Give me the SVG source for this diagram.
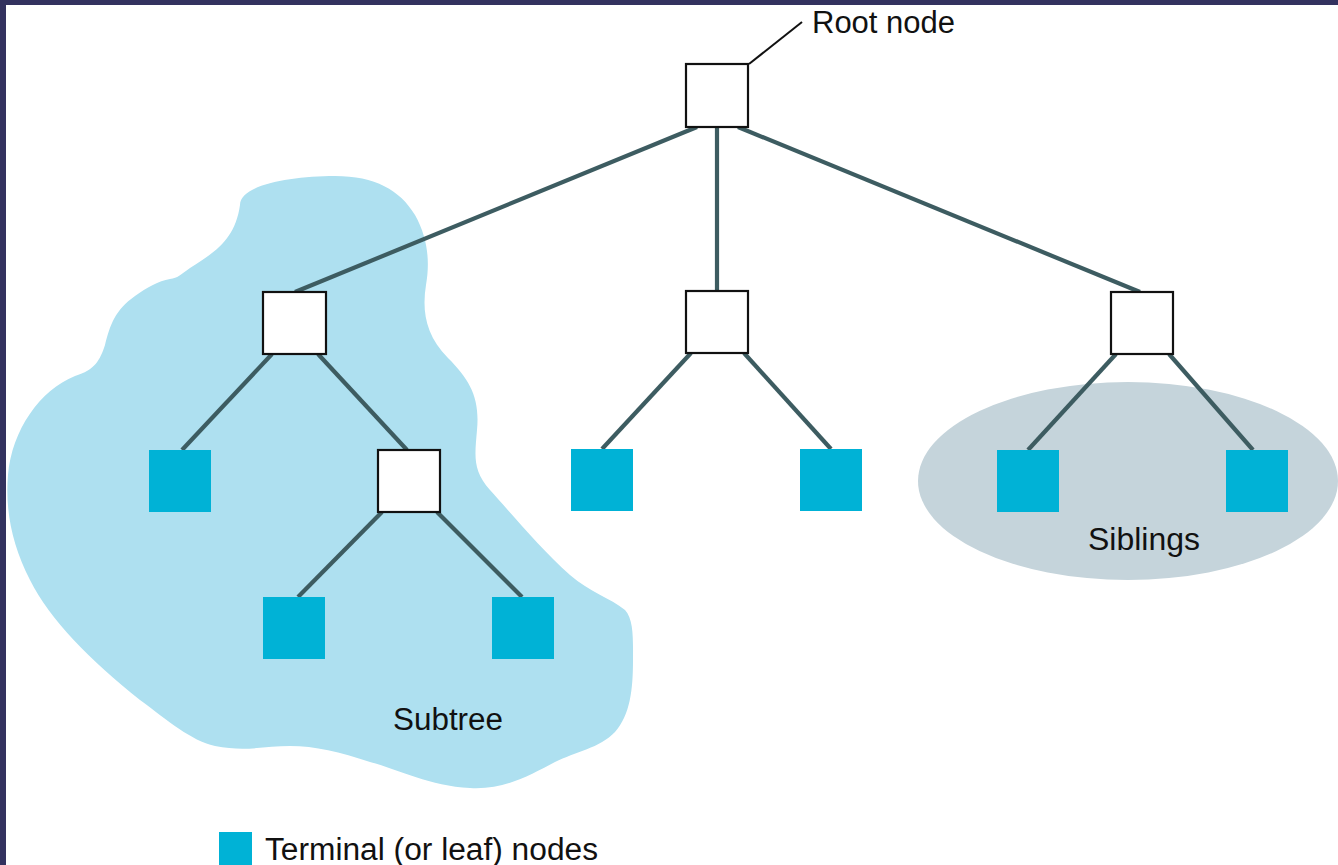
<svg xmlns="http://www.w3.org/2000/svg" width="1338" height="865" viewBox="0 0 1338 865">
<style>
.inner{fill:#ffffff;stroke:#111111;stroke-width:2.2}
.leaf{fill:#00b2d6}
.edge{stroke:#3d5c61;stroke-width:4.2;stroke-linecap:butt;fill:none}
.lbl{font-family:"Liberation Sans",Arial,sans-serif;font-size:31px;fill:#111111}
</style>
<rect x="0" y="0" width="1338" height="865" fill="#ffffff"/>
<rect x="0" y="0" width="1338" height="5" fill="#33325f"/>
<rect x="0" y="0" width="6" height="865" fill="#33325f"/>
<g id="regions">
<path id="subtree-region" fill="#aee0f0" d="M 240,205 C 240,185 290,176 335,176 C 375,176 400,190 415,215 C 428,238 430,262 426,285 C 422,310 425,335 448,358 C 470,380 480,398 477,430 C 475,455 472,470 490,490 C 510,512 540,548 570,575 C 590,592 610,598 625,610 C 634,620 633,640 633,660 C 633,690 630,715 615,732 C 600,748 575,752 555,762 C 530,775 505,790 470,788 C 430,786 400,770 370,762 C 340,752 315,746 290,746 C 265,746 245,752 215,746 C 190,740 170,722 140,700 C 90,660 50,620 30,580 C 12,545 5,510 8,475 C 12,430 40,390 75,376 C 95,370 100,360 105,345 C 110,325 115,310 135,296 C 148,287 158,281 170,279 C 178,278 180,275 190,268 C 215,252 235,240 240,205 Z"/>
<ellipse id="siblings-region" cx="1128" cy="481" rx="210" ry="99" fill="#c5d4db"/>
</g>
<g id="connectors">
<line class="edge" x1="697" y1="127" x2="295" y2="292"/>
<line class="edge" x1="717" y1="127" x2="717" y2="291"/>
<line class="edge" x1="738" y1="127" x2="1140" y2="292"/>
<line class="edge" x1="272" y1="354" x2="182" y2="450"/>
<line class="edge" x1="318" y1="354" x2="407" y2="450"/>
<line class="edge" x1="382" y1="512" x2="298" y2="597"/>
<line class="edge" x1="437" y1="512" x2="522" y2="597"/>
<line class="edge" x1="691" y1="353" x2="602" y2="449"/>
<line class="edge" x1="744" y1="353" x2="831" y2="449"/>
<line class="edge" x1="1116" y1="354" x2="1028" y2="450"/>
<line class="edge" x1="1169" y1="354" x2="1253" y2="450"/>
<line x1="749" y1="64" x2="802" y2="22" stroke="#111111" stroke-width="2"/>
</g>
<g id="root"><rect class="inner" x="686" y="64" width="62" height="63"/></g>
<g id="n-left"><rect class="inner" x="263" y="292" width="63" height="62"/></g>
<g id="n-mid"><rect class="inner" x="686" y="291" width="62" height="62"/></g>
<g id="n-right"><rect class="inner" x="1111" y="292" width="62" height="62"/></g>
<g id="n-sub"><rect class="inner" x="378" y="450" width="62" height="62"/></g>
<g id="leaf1"><rect class="leaf" x="149" y="450" width="62" height="62"/></g>
<g id="leaf2"><rect class="leaf" x="263" y="597" width="62" height="62"/></g>
<g id="leaf3"><rect class="leaf" x="492" y="597" width="62" height="62"/></g>
<g id="leaf4"><rect class="leaf" x="571" y="449" width="62" height="62"/></g>
<g id="leaf5"><rect class="leaf" x="800" y="449" width="62" height="62"/></g>
<g id="leaf6"><rect class="leaf" x="997" y="450" width="62" height="62"/></g>
<g id="leaf7"><rect class="leaf" x="1226" y="450" width="62" height="62"/></g>
<g id="labels">
<text class="lbl" x="812" y="33" textLength="143" lengthAdjust="spacingAndGlyphs">Root node</text>
<text class="lbl" x="1088" y="550" textLength="112" lengthAdjust="spacingAndGlyphs">Siblings</text>
<text class="lbl" x="393" y="730" textLength="110" lengthAdjust="spacingAndGlyphs">Subtree</text>
</g>
<g id="legend">
<rect class="leaf" x="219" y="832" width="33" height="40"/>
<text class="lbl" x="265" y="860" textLength="333" lengthAdjust="spacingAndGlyphs">Terminal (or leaf) nodes</text>
</g>
</svg>
